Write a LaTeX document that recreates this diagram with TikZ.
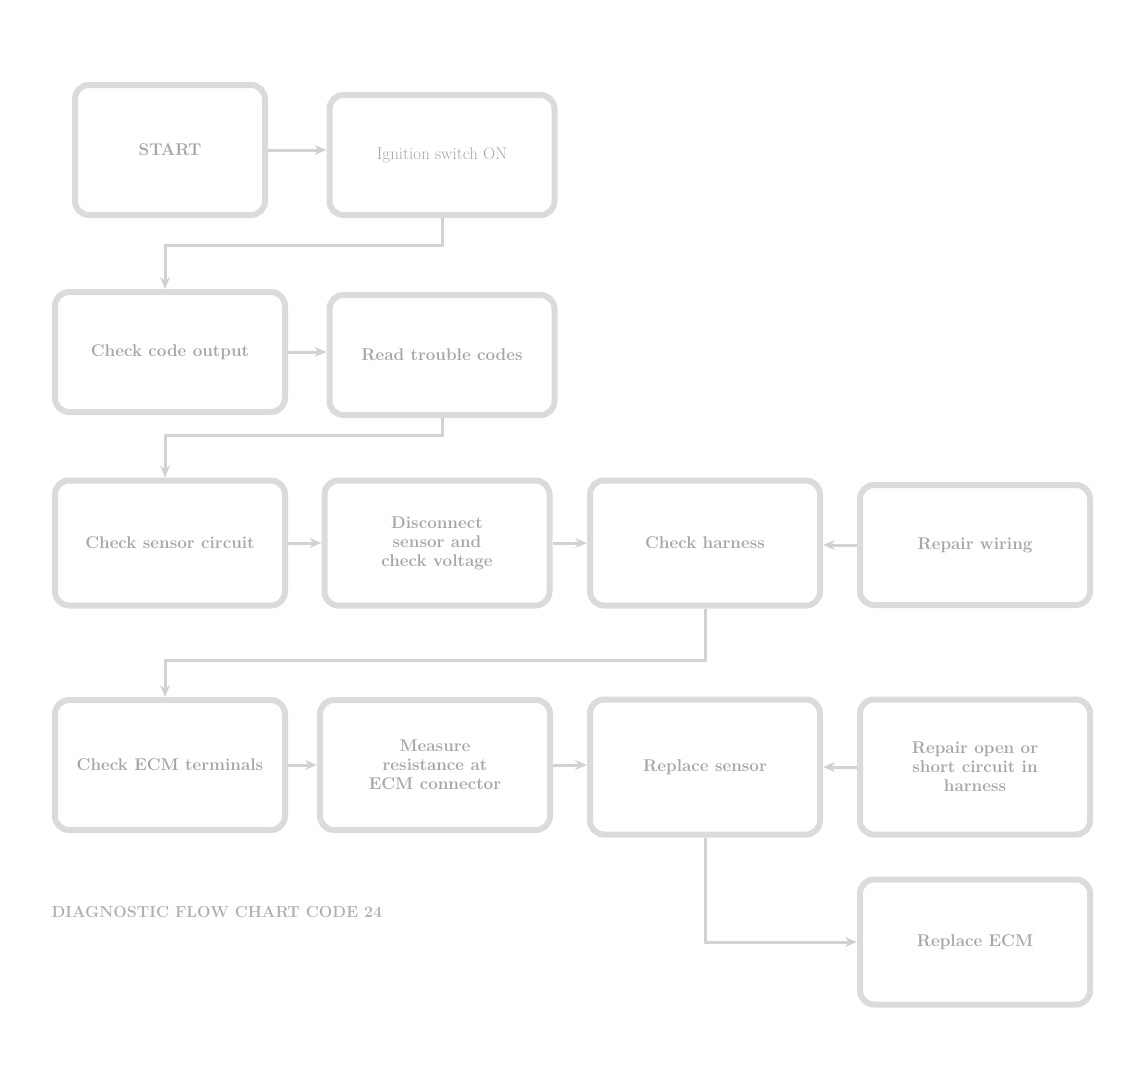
\documentclass[tikz,border=0pt]{standalone}
\usetikzlibrary{arrows.meta}
\begin{document}
\begin{tikzpicture}[x=1pt,y=-1pt,
  box/.style={draw=gray!28, line width=6pt, rounded corners=14pt, fill=white,
    text=gray!70, font=\fontsize{17}{19}\selectfont\bfseries, align=center, inner sep=4pt},
  conn/.style={draw=gray!35, line width=3pt, -{Stealth[length=12pt,width=10pt]}},
  capt/.style={text=gray!62, font=\fontsize{16}{18}\selectfont\bfseries, anchor=west}]
\useasboundingbox (0,0) rectangle (1127,1081);
\node[box, minimum width=190pt, minimum height=130pt] (A) at (170,150) {START};
\node[box, minimum width=225pt, minimum height=120pt] (B) at (442,155) {\mdseries Ignition switch ON};
\node[box, minimum width=230pt, minimum height=120pt] (C) at (170,352) {Check code output};
\node[box, minimum width=225pt, minimum height=120pt] (D) at (442,355) {Read trouble codes};
\node[box, minimum width=230pt, minimum height=125pt] (E) at (170,543) {Check sensor circuit};
\node[box, minimum width=225pt, minimum height=125pt] (F) at (437,543) {Disconnect\\sensor and\\check voltage};
\node[box, minimum width=230pt, minimum height=125pt] (G) at (705,543) {Check harness};
\node[box, minimum width=230pt, minimum height=120pt] (H) at (975,545) {Repair wiring};
\node[box, minimum width=230pt, minimum height=130pt] (I) at (170,765) {Check ECM terminals};
\node[box, minimum width=230pt, minimum height=130pt] (J) at (435,765) {Measure\\resistance at\\ECM connector};
\node[box, minimum width=230pt, minimum height=135pt] (K) at (705,767) {Replace sensor};
\node[box, minimum width=230pt, minimum height=135pt] (L) at (975,767) {Repair open or\\short circuit in\\harness};
\node[box, minimum width=230pt, minimum height=125pt] (M) at (975,942) {Replace ECM};
\node[capt] (cap) at (48,912) {DIAGNOSTIC FLOW CHART CODE 24};
\coordinate (b1) at (442,245); \coordinate (b2) at (165,245);
\coordinate (d1) at (442,435); \coordinate (d2) at (165,435);
\coordinate (g1) at (705,660); \coordinate (g2) at (165,660);
\draw[conn] (A.east) -- (A.east -| B.west);
\draw[conn] (C.east) -- (C.east -| D.west);
\draw[conn] (E) -- (F);
\draw[conn] (F) -- (G);
\draw[conn] (H.west) -- (H.west -| G.east);
\draw[conn] (I.east) -- (I.east -| J.west);
\draw[conn] (J.east) -- (J.east -| K.west);
\draw[conn] (L) -- (K);
\draw[conn] (B.south) -- (b1) -- (b2) -- (b2 |- C.north);
\draw[conn] (D.south) -- (d1) -- (d2) -- (d2 |- E.north);
\draw[conn] (G.south) -- (g1) -- (g2) -- (g2 |- I.north);
\draw[conn] (K.south) -- (K.south |- M.west) -- (M.west);
\end{tikzpicture}
\end{document}
